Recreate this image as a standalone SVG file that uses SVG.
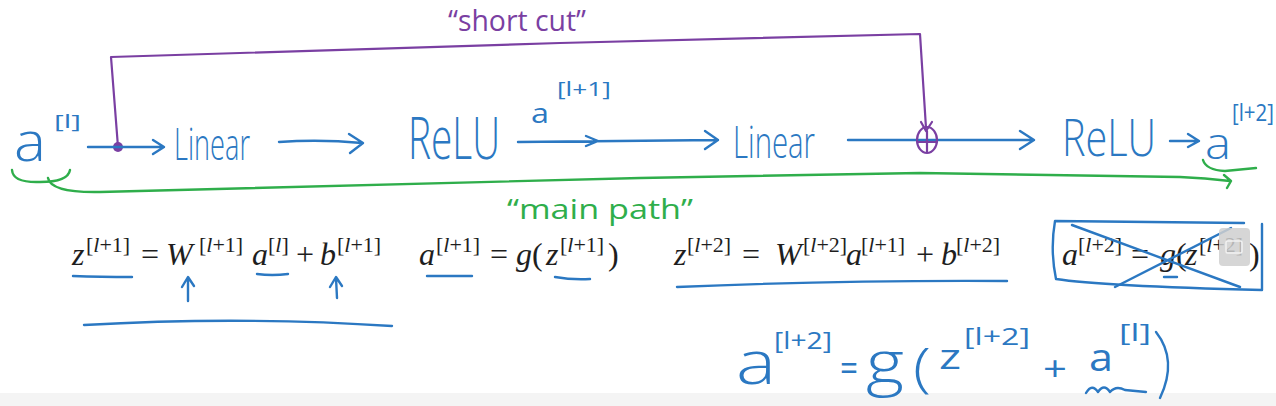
<svg xmlns="http://www.w3.org/2000/svg" width="1276" height="406" viewBox="0 0 1276 406">
<defs>
<style>
.bg{fill:#ffffff}
.hb{fill:#2b78c2;font-family:"Open Sans","Liberation Sans",sans-serif;font-weight:400}
.lt{font-weight:300}
.hp{fill:#7a3fa2;font-family:"Open Sans","Liberation Sans",sans-serif;font-weight:400}
.hg{fill:#2fae4b;font-family:"Open Sans","Liberation Sans",sans-serif;font-weight:400}
.sb{fill:none;stroke:#2b78c2;stroke-width:2.4;stroke-linecap:round;stroke-linejoin:round}
.sp{fill:none;stroke:#7a3fa2;stroke-width:2.2;stroke-linecap:round;stroke-linejoin:round}
.sg{fill:none;stroke:#2fae4b;stroke-width:2.4;stroke-linecap:round;stroke-linejoin:round}
.m{fill:#1e1e1e;font-family:"Liberation Serif","DejaVu Serif",serif;font-size:32px}
.mi{font-style:italic}
.sup{font-size:22px}
</style>
</defs>
<rect class="bg" x="0" y="0" width="1276" height="406"/>
<rect x="0" y="393" width="1276" height="13" fill="#f4f4f4"/>

<g id="connectors">
  <path class="sp" d="M118,147 L111,57 L560,43 L920,34 L926,128"/>
  <path class="sp" d="M921,122 L926,131 L932,122"/>
  <circle cx="118" cy="147" r="5" fill="#7a3fa2"/>
  <path class="sb" d="M88,147 L163,147 M153,140 L164,147 L153,154"/>
  <path class="sb" d="M279,142 Q320,139 362,143 M349,134 L363,143 L350,153"/>
  <path class="sb" d="M518,142 L718,140 M586,136 L598,141 L586,146 M705,131 L718,140 L705,149"/>
  <path class="sb" d="M848,140 L1033,140 M1020,131 L1034,140 L1020,149"/>
  <path class="sb" d="M1170,141 L1198,141 M1188,134 L1199,141 L1188,147"/>
  <path class="sg" d="M12,170 Q13,183 40,182 Q68,182 70,170"/>
  <path class="sg" d="M48,178 Q51,193 100,192 L640,178 L920,173 L1180,177 Q1205,178 1230,181 M1224,175 L1231,181 L1227,188"/>
  <path class="sg" d="M1203,160 Q1206,170 1225,171 L1256,168"/>
</g>

<g id="a_l">
  <text class="hb lt" x="14" y="161" font-size="56" textLength="32" lengthAdjust="spacingAndGlyphs">a</text>
  <text class="hb" x="54" y="128" font-size="19" textLength="27" lengthAdjust="spacingAndGlyphs">[l]</text>
</g>
<g id="linear1">
  <text class="hb lt" transform="translate(174,160) scale(1,1.65)" font-size="27" textLength="76" lengthAdjust="spacingAndGlyphs">Linear</text>
</g>
<g id="relu1">
  <text class="hb lt" transform="translate(408,159) scale(1,1.5)" font-size="39" textLength="92" lengthAdjust="spacingAndGlyphs">ReLU</text>
</g>
<g id="a_l1">
  <text class="hb" x="531" y="123" font-size="28" textLength="18" lengthAdjust="spacingAndGlyphs">a</text>
  <text class="hb" x="557" y="96" font-size="20" textLength="54" lengthAdjust="spacingAndGlyphs">[l+1]</text>
</g>
<g id="linear2">
  <text class="hb lt" transform="translate(733,158) scale(1,1.55)" font-size="29" textLength="82" lengthAdjust="spacingAndGlyphs">Linear</text>
</g>
<g id="add">
  <ellipse class="sp" cx="927" cy="140" rx="10" ry="13"/>
  <path class="sp" d="M918,142 L937,142 M927,131 L927,152" stroke-width="3"/>
</g>
<g id="relu2">
  <text class="hb lt" transform="translate(1062,156) scale(1,1.3)" font-size="40" textLength="94" lengthAdjust="spacingAndGlyphs">ReLU</text>
</g>
<g id="a_l2">
  <text class="hb lt" x="1205" y="159" font-size="44" textLength="26" lengthAdjust="spacingAndGlyphs">a</text>
  <text class="hb" transform="translate(1232,121) scale(1,1.2)" font-size="20" textLength="42" lengthAdjust="spacingAndGlyphs">[l+2]</text>
</g>

<g id="labels">
  <text class="hp" x="448" y="31" font-size="30" textLength="138" lengthAdjust="spacingAndGlyphs">“short cut”</text>
  <text class="hg" x="507" y="219" font-size="28" textLength="186" lengthAdjust="spacingAndGlyphs">“main path”</text>
</g>

<g id="equations">
  <text class="m"><tspan class="mi" x="72" y="265">z</tspan><tspan class="sup" x="86" y="252">[<tspan class="mi">l</tspan>+1]</tspan><tspan x="141" y="265">=</tspan><tspan class="mi" x="166" y="265">W</tspan><tspan class="sup" x="199" y="252">[<tspan class="mi">l</tspan>+1]</tspan><tspan class="mi" x="252" y="265">a</tspan><tspan class="sup" x="268" y="252">[<tspan class="mi">l</tspan>]</tspan><tspan x="296" y="265">+</tspan><tspan class="mi" x="320" y="265">b</tspan><tspan class="sup" x="337" y="252">[<tspan class="mi">l</tspan>+1]</tspan></text>
  <text class="m"><tspan class="mi" x="419" y="265">a</tspan><tspan class="sup" x="436" y="252">[<tspan class="mi">l</tspan>+1]</tspan><tspan x="490" y="265">=</tspan><tspan class="mi" x="516" y="265">g</tspan><tspan x="532" y="265">(</tspan><tspan class="mi" x="546" y="265">z</tspan><tspan class="sup" x="560" y="252">[<tspan class="mi">l</tspan>+1]</tspan><tspan x="608" y="265">)</tspan></text>
  <text class="m"><tspan class="mi" x="674" y="265">z</tspan><tspan class="sup" x="687" y="252">[<tspan class="mi">l</tspan>+2]</tspan><tspan x="742" y="265">=</tspan><tspan class="mi" x="775" y="265">W</tspan><tspan class="sup" x="803" y="252">[<tspan class="mi">l</tspan>+2]</tspan><tspan class="mi" x="846" y="265">a</tspan><tspan class="sup" x="861" y="252">[<tspan class="mi">l</tspan>+1]</tspan><tspan x="916" y="265">+</tspan><tspan class="mi" x="941" y="265">b</tspan><tspan class="sup" x="956" y="252">[<tspan class="mi">l</tspan>+2]</tspan></text>
  <text class="m"><tspan class="mi" x="1062" y="265">a</tspan><tspan class="sup" x="1078" y="252">[<tspan class="mi">l</tspan>+2]</tspan><tspan x="1131" y="265">=</tspan><tspan class="mi" x="1160" y="265">g</tspan><tspan x="1176" y="265">(</tspan><tspan class="mi" x="1185" y="265">z</tspan><tspan class="sup" x="1199" y="252">[<tspan class="mi">l</tspan>+2]</tspan><tspan x="1249" y="265">)</tspan></text>
</g>

<g id="annotations">
  <path class="sb" d="M73,276 Q100,277 132,277"/>
  <path class="sb" d="M257,274 Q272,276 288,274"/>
  <path class="sb" d="M427,276 L472,276"/>
  <path class="sb" d="M555,277 Q572,280 590,279"/>
  <path class="sb" d="M188,301 L188,278 M182,287 L188,277 L194,286"/>
  <path class="sb" d="M337,298 L336,278 M330,287 L336,277 L342,286"/>
  <path class="sb" d="M84,325 Q240,316 392,326"/>
  <path class="sb" d="M677,287 Q840,280 1007,281"/>
  <path class="sb" d="M1244,223 L1055,221 Q1050,250 1056,279 Q1100,286 1262,290 L1262,224"/>
  <path class="sb" d="M1072,225 L1240,287 M1115,287 L1231,228 M1164,277 L1177,277"/>
  <rect x="1219" y="228" width="31" height="38" rx="4" fill="#cfcfcf" fill-opacity="0.85"/>
  <rect x="1226" y="241" width="16" height="12" rx="1.5" fill="none" stroke="#f2f2f2" stroke-width="1.5"/>
</g>

<g id="result">
  <text class="hb lt" x="736" y="384" font-size="60" textLength="40" lengthAdjust="spacingAndGlyphs">a</text>
  <text class="hb" x="774" y="349" font-size="24" textLength="58" lengthAdjust="spacingAndGlyphs">[l+2]</text>
  <text class="hb" x="840" y="381" font-size="36" textLength="18" lengthAdjust="spacingAndGlyphs">=</text>
  <text class="hb lt" x="866" y="384" font-size="60" textLength="38" lengthAdjust="spacingAndGlyphs">g</text>
  <text class="hb lt" x="913" y="386" font-size="54" textLength="18" lengthAdjust="spacingAndGlyphs">(</text>
  <text class="hb" x="939" y="369" font-size="34" textLength="22" lengthAdjust="spacingAndGlyphs">z</text>
  <text class="hb" x="964" y="345" font-size="24" textLength="66" lengthAdjust="spacingAndGlyphs">[l+2]</text>
  <text class="hb" x="1043" y="381" font-size="34" textLength="24" lengthAdjust="spacingAndGlyphs">+</text>
  <text class="hb" x="1089" y="371" font-size="38" textLength="24" lengthAdjust="spacingAndGlyphs">a</text>
  <text class="hb" x="1119" y="341" font-size="24" textLength="32" lengthAdjust="spacingAndGlyphs">[l]</text>
  <path class="sb" d="M1156,332 Q1178,360 1160,398"/>
  <path class="sb" d="M1086,393 Q1092,383 1098,392 Q1104,383 1110,392 Q1116,385 1125,390 L1146,392"/>
</g>
</svg>
